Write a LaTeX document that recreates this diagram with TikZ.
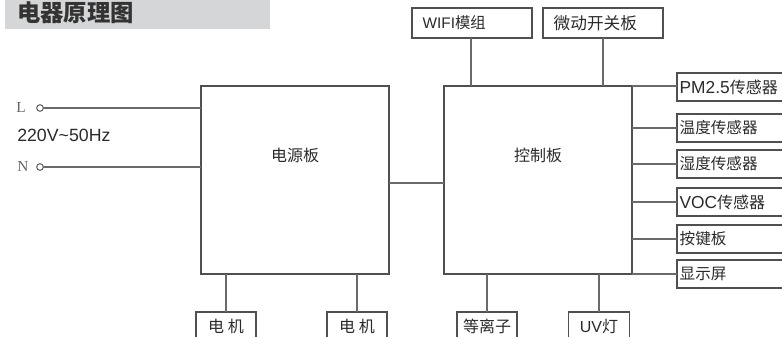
\documentclass[tikz,border=0pt]{standalone}
\usepackage{fontspec}
\setmainfont{Liberation Sans}
\newfontfamily\cjk{Noto Sans CJK SC}
\newfontfamily\serifl{Liberation Serif}
\definecolor{titlebg}{HTML}{D4D6D7}
\definecolor{titletxt}{HTML}{333333}
\definecolor{boxc}{HTML}{505050}
\definecolor{connc}{HTML}{6A6A6A}
\definecolor{txtc}{HTML}{2A2A2A}
\definecolor{termc}{HTML}{666666}
\newcommand\zh[1]{{\cjk #1}}
\begin{document}
\begin{tikzpicture}[x=0.75pt,y=-0.75pt,
  mainbox/.style={draw=boxc,line width=1pt,minimum width=141pt,minimum height=141pt,inner sep=0pt,outer sep=0pt},
  maintext/.style={inner sep=0pt,text=txtc,font=\cjk\fontsize{12}{14}\selectfont},
  topbox/.style={draw=boxc,line width=0.9pt,anchor=north west,minimum width=90pt,minimum height=22.5pt,
    inner xsep=8pt,inner ysep=0pt,outer sep=0pt,text width=74pt,align=left,text=txtc,
    font=\fontsize{11.5}{13}\selectfont},
  sensorbox/.style={draw=boxc,line width=0.9pt,anchor=west,minimum height=21pt,
    inner xsep=2pt,inner ysep=0pt,outer sep=0pt,text width=100pt,align=left,text=txtc,
    font=\fontsize{13}{14}\selectfont},
  zhsensor/.style={sensorbox,font=\cjk\fontsize{11.7}{13}\selectfont},
  botbox/.style={draw=boxc,line width=0.9pt,anchor=north,minimum width=45pt,minimum height=21pt,
    inner sep=0pt,outer sep=0pt,align=center,text=txtc,font=\fontsize{12}{14}\selectfont},
  zhbot/.style={botbox,font=\cjk\fontsize{12}{14}\selectfont},
  conn/.style={draw=connc,line width=1pt},
  term/.style={draw=termc,line width=0.8pt,circle,minimum size=5pt,inner sep=0pt,outer sep=0pt},
  termlabel/.style={text=termc,font=\serifl\fontsize{11.5}{13}\selectfont,inner sep=0pt}
]
\useasboundingbox (0,0) rectangle (782,336);
\clip (0,0) rectangle (782,336);
% title
\fill[titlebg] (5,0) rectangle (270,28.5);
\node[anchor=west,inner sep=0pt,text=titletxt,font=\cjk\bfseries\fontsize{17.5}{20}\selectfont] (title) at (17,12.5) {电器原理图};
% main boxes
\node[mainbox] (power) at (295,180) {};
\node[mainbox] (ctrl) at (538,180) {};
\node[maintext] (powerlbl) at (295,155) {电源板};
\node[maintext] (ctrllbl) at (538,155) {控制板};
\coordinate (link) at (0,183);
\draw[conn] (power.east |- link) -- (ctrl.west |- link);
% mains input
\node[termlabel] (Llab) at (21,107) {L};
\node[term] (Lc) at (40,108) {};
\node[termlabel] (Nlab) at (23,166) {N};
\node[term] (Nc) at (40,167) {};
\draw[conn] (Lc.east) -- (Lc.east -| power.west);
\draw[conn] (Nc.east) -- (Nc.east -| power.west);
\node[anchor=west,inner sep=0pt,text=txtc,font=\fontsize{13.3}{15}\selectfont] (volt) at (17,135) {220V\textasciitilde50Hz};
% top boxes
\node[topbox] (wifi) at (412,8) {WIFI\zh{模组}};
\node[topbox,font=\cjk\fontsize{12.5}{14}\selectfont] (micro) at (543,8) {微动开关板};
\draw[conn] (wifi.south -| 471,0) -- (471,86);
\draw[conn] (micro.south -| 603,0) -- (603,86);
% sensors
\node[sensorbox] (pm) at (677,87) {PM2.5\zh{\fontsize{12}{13}\selectfont 传感器}};
\node[zhsensor] (temp) at (677,128) {温度传感器};
\node[zhsensor] (hum) at (677,164) {湿度传感器};
\node[sensorbox] (voc) at (677,202) {VOC\zh{\fontsize{12}{13}\selectfont 传感器}};
\node[zhsensor] (key) at (677,239) {按键板};
\node[zhsensor] (disp) at (677,274) {显示屏};
\draw[conn] (ctrl.north east) -- (ctrl.north east -| pm.west);
\draw[conn] (ctrl.east |- temp.west) -- (temp.west);
\draw[conn] (ctrl.east |- hum.west) -- (hum.west);
\draw[conn] (ctrl.east |- voc.west) -- (voc.west);
\draw[conn] (ctrl.east |- key.west) -- (key.west);
\draw[conn] (ctrl.south east) -- (ctrl.south east -| disp.west);
% bottom boxes
\node[zhbot] (m1) at (226,312) {电 机};
\node[zhbot] (m2) at (357,312) {电 机};
\node[zhbot] (plasma) at (487,312) {等离子};
\node[botbox,minimum width=45.75pt] (uv) at (599,312) {UV\zh{灯}};
\draw[conn] (m1.north) -- (m1.north |- power.south);
\draw[conn] (m2.north) -- (m2.north |- power.south);
\draw[conn] (plasma.north) -- (plasma.north |- ctrl.south);
\draw[conn] (uv.north) -- (uv.north |- ctrl.south);
\end{tikzpicture}
\end{document}
